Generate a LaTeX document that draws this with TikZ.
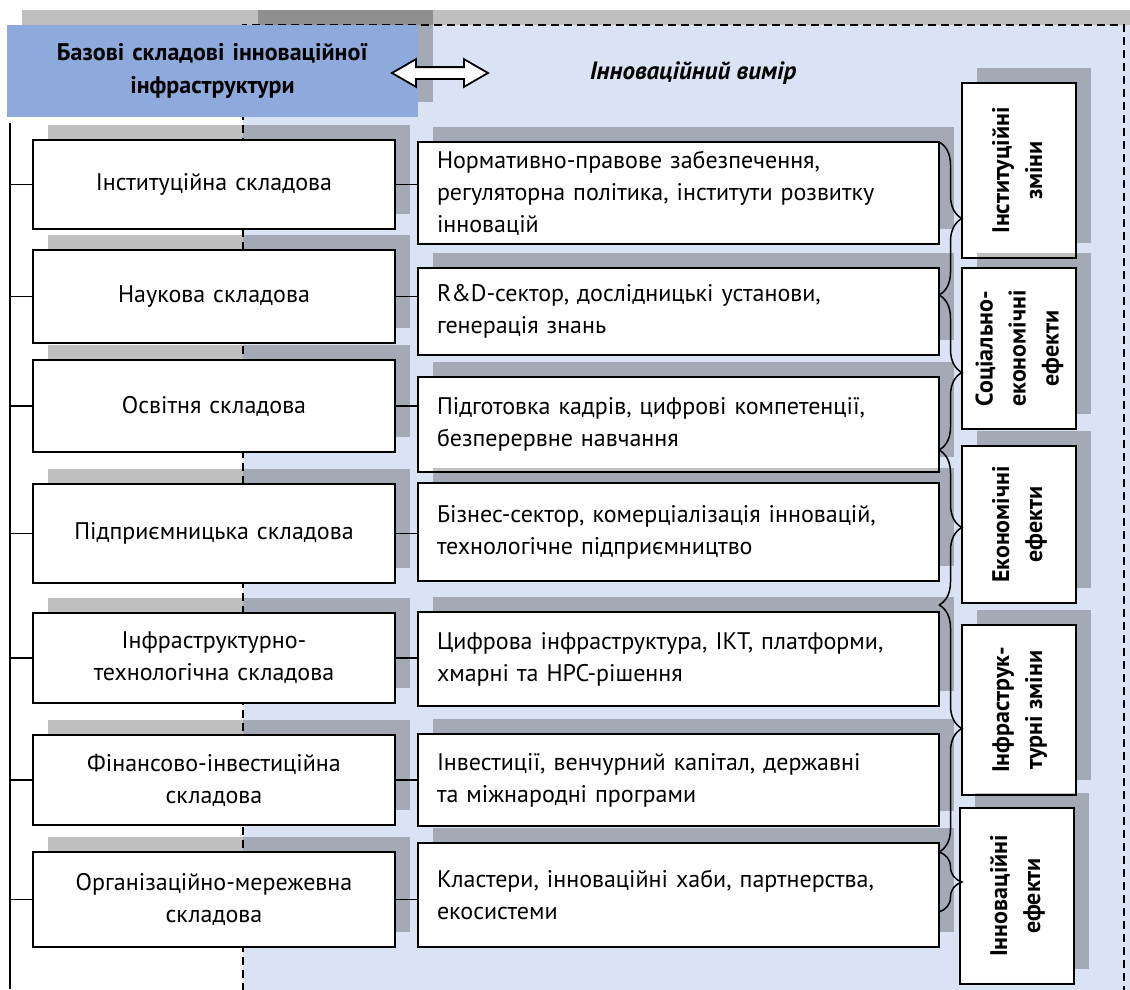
\documentclass[tikz,border=0pt]{standalone}
\usepackage{fontspec}
\setmainfont{PT Sans}
\usepackage{xcolor}
\usepackage{tikz}
\usetikzlibrary{shadows,shapes.arrows,decorations.pathreplacing}

\definecolor{hdrblue}{HTML}{8EA9DB}
\definecolor{dimblue}{HTML}{DAE3F3}

\begin{document}
\begin{tikzpicture}[x=1pt, y=-1pt,
        shdw/.style={drop shadow={shadow xshift=15pt, shadow yshift=15pt, fill=black, opacity=0.25}},
        hdr/.style={rectangle, fill=hdrblue, shdw, minimum width=411pt, minimum height=92pt, text width=391pt, align=center, font=\fontsize{24}{33}\selectfont\bfseries},
        basebox/.style={draw, rectangle, fill=white, line width=1.8pt, shdw, text width=342pt, inner xsep=10pt, align=center, font=\fontsize{24}{32}\selectfont},
        descbox/.style={draw, rectangle, fill=white, line width=1.8pt, shdw, text width=483pt, inner xsep=19pt, align=left, font=\fontsize{24}{32}\selectfont},
        effbox/.style={draw, rectangle, fill=white, line width=1.8pt, shdw, minimum width=114pt, inner sep=0pt, font=\fontsize{24}{33}\selectfont\bfseries},
        dblarr/.style={double arrow, draw, fill=white, line width=1.8pt, minimum height=96pt, inner sep=5pt, double arrow head extend=8pt, double arrow tip angle=60},
        link/.style={line width=1.5pt},
        brc/.style={decorate, decoration={brace, amplitude=23pt}, line width=1.5pt},
        dimborder/.style={dashed, dash pattern=on 8pt off 5pt, line width=1.5pt}]
        \useasboundingbox (0,0) rectangle (1130,989);

        % Innovation dimension area
        \fill[black, opacity=0.25] (258,10) rectangle (1145,1004);
        \fill[dimblue] (243,25) rectangle (1130,1004);
        \draw[dimborder] (243,1004) -- (243,25) -- (1124,25) -- (1124,1004);

        % Header
        \node[hdr] (hdr) at (212.5,71) {Базові складові інноваційної\\інфраструктури};
        \node[dblarr] (arr) at (440,73) {};
        \node[font=\fontsize{25}{28}\selectfont\bfseries\itshape] (dim) at (693,73) {Інноваційний вимір};

        % Base components
        \node[basebox, minimum height=89pt] (inst) at (214,184.5) {Інституційна складова};
        \node[basebox, minimum height=93pt] (sci) at (214,296.5) {Наукова складова};
        \node[basebox, minimum height=92pt] (edu) at (214,406) {Освітня складова};
        \node[basebox, minimum height=99pt] (entr) at (214,533.5) {Підприємницька складова};
        \node[basebox, minimum height=90pt] (infra) at (214,658) {Інфраструктурно-\\технологічна складова};
        \node[basebox, minimum height=90pt] (fin) at (214,780) {Фінансово-інвестиційна\\складова};
        \node[basebox, minimum height=95pt] (org) at (214,899.5) {Організаційно-мережевна\\складова};

        % Content of each component
        \node[descbox, minimum height=102pt] (reg) at (678.5,193) {Нормативно-правове забезпечення,\\регуляторна політика, інститути розвитку\\інновацій};
        \node[descbox, minimum height=87pt] (rnd) at (678.5,311.5) {R\&D-сектор, дослідницькі установи,\\генерація знань};
        \node[descbox, minimum height=95pt] (hr) at (678.5,424.5) {Підготовка кадрів, цифрові компетенції,\\безперервне навчання};
        \node[descbox, minimum height=98pt] (biz) at (678.5,532) {Бізнес-сектор, комерціалізація інновацій,\\технологічне підприємництво};
        \node[descbox, minimum height=94pt] (ict) at (678.5,659) {Цифрова інфраструктура, ІКТ, платформи,\\хмарні та HPC-рішення};
        \node[descbox, minimum height=92pt] (inv) at (678.5,780) {Інвестиції, венчурний капітал, державні\\та міжнародні програми};
        \node[descbox, minimum height=104pt] (clu) at (678.5,895) {Кластери, інноваційні хаби, партнерства,\\екосистеми};

        % Effects
        \node[effbox, minimum height=175pt] (instch) at (1019,170.5) {\rotatebox{90}{\begin{tabular}{@{}c@{}}Інституційні\\зміни\end{tabular}}};
        \node[effbox, minimum height=161pt] (soceff) at (1019,348.5) {\rotatebox{90}{\begin{tabular}{@{}c@{}}Соціально-\\економічні\\ефекти\end{tabular}}};
        \node[effbox, minimum height=157pt] (ecoeff) at (1019,524.5) {\rotatebox{90}{\begin{tabular}{@{}c@{}}Економічні\\ефекти\end{tabular}}};
        \node[effbox, minimum height=170pt] (infch) at (1019,710) {\rotatebox{90}{\begin{tabular}{@{}c@{}}Інфраструк-\\турні зміни\end{tabular}}};
        \node[effbox, minimum height=176pt] (innoveff) at (1017,896) {\rotatebox{90}{\begin{tabular}{@{}c@{}}Інноваційні\\ефекти\end{tabular}}};

        % Bus line on the left
        \coordinate (bustop) at (10,123);
        \coordinate (busbot) at (10,989);
        \draw[link] (bustop) -- (busbot);
        \draw[link] (inst.west) -- (inst.west -| bustop);
        \draw[link] (sci.west) -- (sci.west -| bustop);
        \draw[link] (edu.west) -- (edu.west -| bustop);
        \draw[link] (entr.west) -- (entr.west -| bustop);
        \draw[link] (infra.west) -- (infra.west -| bustop);
        \draw[link] (fin.west) -- (fin.west -| bustop);
        \draw[link] (org.west) -- (org.west -| bustop);

        % Components to content
        \draw[link] (inst.east) -- (inst.east -| reg.west);
        \draw[link] (sci.east) -- (sci.east -| rnd.west);
        \draw[link] (edu.east) -- (edu.east -| hr.west);
        \draw[link] (entr.east) -- (entr.east -| biz.west);
        \draw[link] (infra.east) -- (infra.east -| ict.west);
        \draw[link] (fin.east) -- (fin.east -| inv.west);
        \draw[link] (org.east) -- (org.east -| clu.west);

        % Braces to effects
        \draw[brc] (939,142) -- (939,295);
        \draw[brc] (939,295) -- (939,450);
        \draw[brc] (939,450) -- (939,605);
        \draw[brc] (939,605) -- (939,852);
        \draw[brc] (939,852) -- (939,912);
    \end{tikzpicture}
\end{document}
